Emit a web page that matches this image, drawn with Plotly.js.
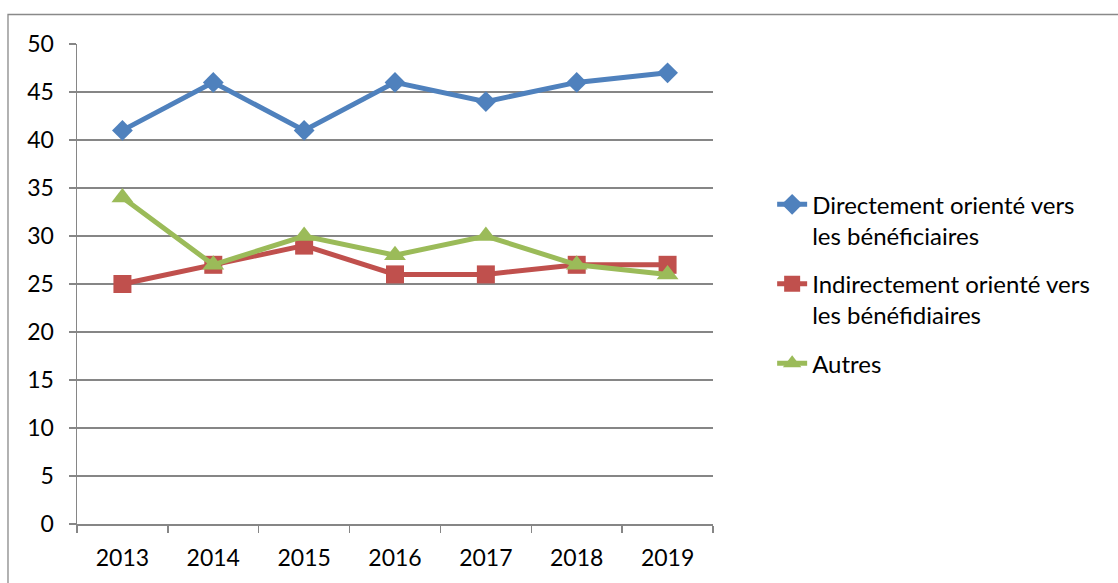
<!DOCTYPE html>
<html>
<head>
<meta charset="utf-8">
<script src="https://cdn.plot.ly/plotly-3.0.1.min.js"></script>
<style>html,body{margin:0;padding:0;background:#fff;}#chart{width:1118px;height:583px;}</style>
</head>
<body>
<div id="chart"></div>
<script>
const years = ['2013','2014','2015','2016','2017','2018','2019'];
const directement = [41, 46, 41, 46, 44, 46, 47];
const indirectement = [25, 27, 29, 26, 26, 27, 27];
const autres = [34, 27, 30, 28, 30, 27, 26];
const names = ['Directement orienté vers<br>les bénéficiaires', 'Indirectement orienté vers<br>les bénéfidiaires', 'Autres'];
const colors = ['#4F81BD', '#C0504D', '#9BBB59'];

const traces = [
  {x: years, y: directement, name: names[0], legendgroup: 'a', type: 'scatter', mode: 'lines+markers',
   line: {color: colors[0], width: 5}, marker: {symbol: 'diamond', size: 16, color: colors[0]}},
  {x: years, y: indirectement, name: names[1], legendgroup: 'b', type: 'scatter', mode: 'lines+markers',
   line: {color: colors[1], width: 5}, marker: {symbol: 'square', size: 18, color: colors[1]}},
  {x: years, y: autres, name: names[2], legendgroup: 'c', type: 'scatter', mode: 'lines+markers',
   line: {color: colors[2], width: 5}, marker: {symbol: 'triangle-up', size: 19, color: colors[2]}}
];

const layout = {
  width: 1118, height: 583,
  margin: {l: 77, r: 405, t: 44, b: 59},
  paper_bgcolor: '#fff', plot_bgcolor: '#fff',
  font: {family: 'Lato, sans-serif', size: 23, color: '#000'},
  showlegend: true,
  legend: {x: 1.093, xanchor: 'left', y: 0.712, yanchor: 'top', valign: 'top',
           traceorder: 'grouped', tracegroupgap: 14, font: {size: 24, color: '#000'}, bgcolor: 'rgba(0,0,0,0)'},
  xaxis: {type: 'category', range: [-0.5, 6.5], showgrid: false, showline: true, linecolor: '#868686', linewidth: 1.5,
          ticks: 'outside', tickson: 'boundaries', ticklen: 7, tickcolor: '#868686', tickwidth: 1.5,
          ticklabelstandoff: 13, zeroline: false, fixedrange: true},
  yaxis: {range: [0, 50], dtick: 5, tick0: 0, showgrid: true, gridcolor: '#868686', gridwidth: 1.5,
          showline: true, linecolor: '#868686', linewidth: 1.5, ticks: 'outside', ticklen: 7,
          tickcolor: '#868686', tickwidth: 1.5, ticklabelstandoff: 10, zeroline: false, fixedrange: true},
  shapes: [{type: 'rect', xref: 'paper', yref: 'paper', x0: -0.1085, x1: 1.64, y0: -0.2, y1: 1.0615,
            line: {color: '#898989', width: 1.3}, fillcolor: 'rgba(0,0,0,0)', layer: 'below'}]
};

Plotly.newPlot('chart', traces, layout, {staticPlot: true, displayModeBar: false});
</script>
</body>
</html>
